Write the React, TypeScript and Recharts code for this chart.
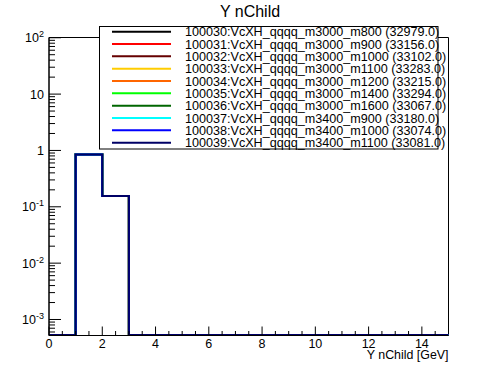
import { Line, LineChart, ReferenceArea, XAxis, YAxis } from "recharts";

const FONT = "'Liberation Sans', Arial, Helvetica, sans-serif";

// 15 unit-wide bins from 0 to 15 (normalized)
const BIN_EDGES = [0, 1, 2, 3, 4, 5, 6, 7, 8, 9, 10, 11, 12, 13, 14, 15];
const BIN_VALUES = [0, 0.85, 0.155, 0, 0, 0, 0, 0, 0, 0, 0, 0, 0, 0, 0];

const SAMPLES = [
  "100030:VcXH_qqqq_m3000_m800",
  "100031:VcXH_qqqq_m3000_m900",
  "100032:VcXH_qqqq_m3000_m1000",
  "100033:VcXH_qqqq_m3000_m1100",
  "100034:VcXH_qqqq_m3000_m1200",
  "100035:VcXH_qqqq_m3000_m1400",
  "100036:VcXH_qqqq_m3000_m1600",
  "100037:VcXH_qqqq_m3400_m900",
  "100038:VcXH_qqqq_m3400_m1000",
  "100039:VcXH_qqqq_m3400_m1100",
];
const ENTRIES = [32979.0, 33156.0, 33102.0, 33283.0, 33215.0, 33294.0, 33067.0, 33180.0, 33074.0, 33081.0];
const COLORS = ["#000000", "#ff0000", "#660000", "#ffcc00", "#ff6600", "#00ff00", "#006600", "#00ffff", "#0000ff", "#000066"];

const X_MAJOR = [0, 2, 4, 6, 8, 10, 12, 14];
const Y_DECADES = [-4, -3, -2, -1, 0, 1, 2];
const Y_MIN = 5.2e-4;
const Y_MAX = 101;

const xTicks: number[] = [];
for (let v = 0; v < 15; v += 0.5) xTicks.push(v);

const yTicks: number[] = [];
Y_DECADES.forEach((d) => {
  for (let m = 1; m <= 9; m++) {
    const v = m * Math.pow(10, d);
    if (v >= Y_MIN && v <= Y_MAX) yTicks.push(v);
  }
});

// empty bins sit on the lower edge of the log axis
const data = BIN_EDGES.map((edge, i) => {
  const row: Record<string, number> = { x: edge };
  const v = BIN_VALUES[Math.min(i, BIN_VALUES.length - 1)];
  SAMPLES.forEach((_, s) => {
    row["s" + s] = Math.max(v, Y_MIN * 1.02);
  });
  return row;
});

const XTick = (props: any) => {
  const { x, y, payload } = props;
  const v = payload.value as number;
  const major = X_MAJOR.includes(v);
  return (
    <g>
      <line x1={x} x2={x} y1={y} y2={y - (major ? 9 : 4.5)} stroke="#000" />
      {major && (
        <text x={x} y={y + 12} textAnchor="middle" fontSize={12.5} fontFamily={FONT} fill="#000">
          {v}
        </text>
      )}
    </g>
  );
};

const YTick = (props: any) => {
  const { x, y, payload } = props;
  const v = payload.value as number;
  const lg = Math.log10(v);
  const e = Math.round(lg);
  const major = Math.abs(lg - e) < 1e-9;
  return (
    <g>
      <line x1={x} x2={x + (major ? 12 : 6)} y1={y} y2={y} stroke="#000" />
      {major && (
        <text x={x - 5} y={y + 4.5} textAnchor="end" fontSize={12.5} fontFamily={FONT} fill="#000">
          {e === 0 ? "1" : e === 1 ? "10" : (
            <>
              10
              <tspan dy={-5} fontSize={9}>
                {e}
              </tspan>
            </>
          )}
        </text>
      )}
    </g>
  );
};

const XTitle = (props: any) => {
  const vb = props.viewBox;
  return (
    <text x={vb.x + vb.width} y={vb.y + 23.5} textAnchor="end" fontSize={12.4} fontFamily={FONT} fill="#000">
      Y nChild [GeV]
    </text>
  );
};

export default function App() {
  return (
    <div style={{ position: "absolute", left: 0, top: 0, width: 498, height: 374, background: "#fff" }}>
      <LineChart width={498} height={374} data={data} margin={{ top: 37.5, right: 49.5, bottom: 0, left: 0 }}>
        <ReferenceArea x1={0} x2={15} y1={Y_MIN} y2={Y_MAX} fill="none" stroke="#000" ifOverflow="extendDomain" />
        <XAxis
          dataKey="x"
          type="number"
          domain={[0, 15]}
          ticks={xTicks}
          interval={0}
          tick={XTick}
          tickLine={false}
          tickSize={0}
          tickMargin={0}
          axisLine={{ stroke: "#000" }}
          height={38.5}
          label={<XTitle />}
        />
        <YAxis
          type="number"
          scale="log"
          domain={[Y_MIN, Y_MAX]}
          allowDataOverflow
          ticks={yTicks}
          interval={0}
          tick={YTick}
          tickLine={false}
          tickSize={0}
          tickMargin={0}
          axisLine={{ stroke: "#000" }}
          width={49}
        />
        {SAMPLES.map((name, s) => (
          <Line
            key={name}
            dataKey={"s" + s}
            type="stepAfter"
            stroke={COLORS[s]}
            strokeWidth={2}
            dot={false}
            isAnimationActive={false}
          />
        ))}
      </LineChart>
      <svg width={498} height={374} style={{ position: "absolute", left: 0, top: 0, pointerEvents: "none" }}>
        <text x={250} y={17} textAnchor="middle" fontSize={16} fontFamily={FONT} fill="#000">
          Y nChild
        </text>
        <rect x={99.5} y={26.5} width={338.5} height={122.5} fill="#fff" stroke="#000" />
        {SAMPLES.map((name, s) => {
          const cy = 31.7 + s * 12.33;
          return (
            <g key={name}>
              <line x1={112} x2={171} y1={cy} y2={cy} stroke={COLORS[s]} strokeWidth={2} />
              <text x={185} y={cy + 4.5} fontSize={12.6} fontFamily={FONT} fill="#000">
                {name} ({ENTRIES[s].toFixed(1)})
              </text>
            </g>
          );
        })}
      </svg>
    </div>
  );
}
